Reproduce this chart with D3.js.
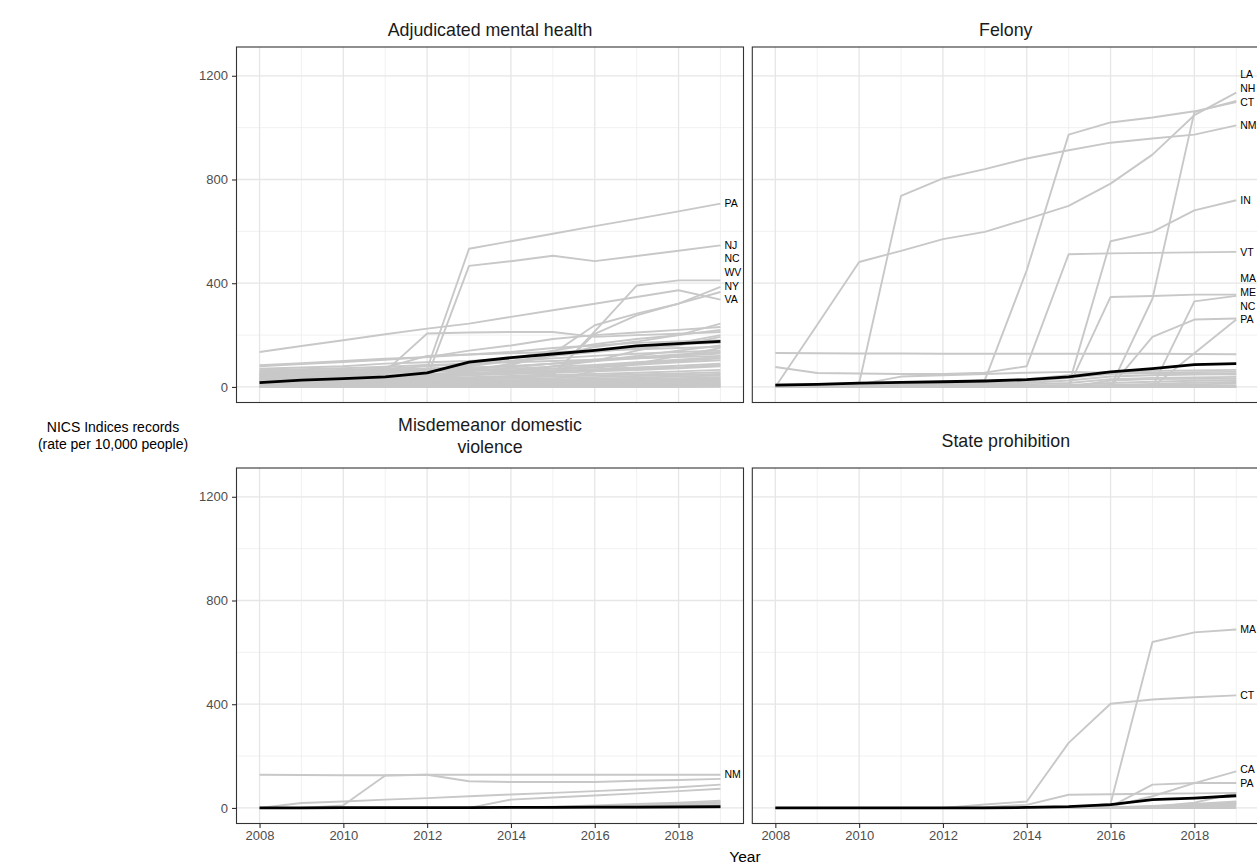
<!DOCTYPE html>
<html><head><meta charset="utf-8">
<script src="https://cdn.jsdelivr.net/npm/d3@7"></script>
<style>body{margin:0;background:#fff}svg{display:block}</style>
</head><body>
<svg id="chart" width="1257" height="865"></svg>
<script>
// ---------------- DATA ----------------
const years = [2008,2009,2010,2011,2012,2013,2014,2015,2016,2017,2018,2019];
const xTickYears = [2008,2010,2012,2014,2016,2018];
const yTickValues = [0,400,800,1200];
const panelTitles = [["Adjudicated mental health"],["Felony"],["Misdemeanor domestic","violence"],["State prohibition"]];
const yAxisTitle = ["NICS Indices records","(rate per 10,000 people)"];
const xAxisTitle = "Year";

// state series: [label (null = unlabelled), values 2008..2019]
const mentalHealthSeries = [
  ["PA",[60,62,64,67,70,533,562,591,620,648,677,707]],
  ["NJ",[30,31,33,35,38,467,485,506,485,505,525,546]],
  ["NC",[25,27,29,31,33,35,40,45,214,391,411,411]],
  ["WV",[45,50,55,60,65,70,84,129,238,283,321,386]],
  ["NY",[15,18,20,23,25,30,40,50,205,276,321,366]],
  ["VA",[135,158,180,203,225,244,270,296,321,347,373,337]],
  [null,[5,20,40,60,206,210,212,212,193,200,205,212]],
  [null,[20,25,30,35,40,60,90,120,154,175,200,244]],
  [null,[80,88,96,105,115,140,160,185,200,210,220,231]],
  [null,[84,92,100,109,115,125,135,150,160,170,175,180]],
  [null,[70,75,80,90,95,100,110,125,140,150,160,193]],
  [null,[60,63,66,70,80,90,100,110,120,128,135,140]],
  [null,[50,55,60,65,70,75,80,90,100,110,120,129]],
  [null,[45,48,52,55,60,65,70,78,85,95,105,116]],
  [null,[40,42,45,48,50,55,60,65,75,85,95,103]],
  [null,[35,37,40,42,45,50,55,60,68,75,82,90]],
  [null,[30,32,35,37,40,45,50,55,60,65,72,80]],
  [null,[25,27,30,32,35,38,42,46,50,55,60,66]],
  [null,[22,24,26,28,30,33,36,40,44,48,52,57]],
  [null,[18,20,22,24,26,28,31,34,38,42,46,50]],
  [null,[15,16,18,19,21,23,26,29,32,36,40,44]],
  [null,[12,13,15,16,18,20,22,25,28,31,34,38]],
  [null,[10,11,12,13,15,17,19,21,24,27,30,33]],
  [null,[8,9,10,11,12,14,16,18,20,23,26,29]],
  [null,[6,7,8,9,10,11,13,15,17,19,22,25]],
  [null,[5,6,6,7,8,9,10,12,14,16,18,21]],
  [null,[4,4,5,5,6,7,8,9,11,13,15,17]],
  [null,[3,3,4,4,5,5,6,7,8,10,12,14]],
  [null,[2,2,3,3,3,4,4,5,6,7,9,11]],
  [null,[1,1,2,2,2,3,3,4,4,5,6,8]],
  [null,[0,1,1,1,1,2,2,2,3,3,4,5]],
  [null,[0,0,0,1,1,1,1,1,2,2,2,3]],
  [null,[0,0,0,0,0,0,1,1,1,1,1,2]],
  [null,[0,0,0,0,0,0,0,0,0,0,1,1]],
  [null,[10,15,25,40,60,70,80,90,100,140,170,200]],
  [null,[0,0,0,0,0,5,10,30,60,90,120,150]],
  [null,[55,58,62,75,120,125,130,135,140,145,150,155]],
  [null,[65,68,72,78,85,90,95,100,105,110,115,120]],
  [null,[30,35,45,60,70,80,100,120,135,150,165,170]],
  [null,[20,22,24,26,30,50,55,60,65,70,75,85]],
  [null,[40,45,50,55,60,85,110,140,165,185,200,220]],
  [null,[25,28,32,36,40,45,60,80,100,120,140,160]],
  [null,[50,52,55,58,60,62,65,70,80,90,100,110]],
  [null,[35,38,41,44,47,60,75,90,105,115,125,135]]
];
const mentalHealthMean = [17,26,32,39,54,96,113,127,141,158,167,176];

const felonySeries = [
  ["LA",[0,240,482,525,570,598,647,698,784,896,1048,1135]],
  ["NH",[0,0,0,0,0,0,0,0,0,340,1060,1103]],
  ["CT",[5,8,10,14,18,26,450,973,1020,1039,1063,1099]],
  ["NM",[5,8,14,737,804,840,881,913,942,958,973,1009]],
  ["IN",[0,0,0,0,0,0,0,7,562,598,681,720]],
  ["VT",[77,54,52,50,50,55,80,512,515,517,519,521]],
  ["MA",[0,0,0,0,0,0,0,0,347,351,356,356]],
  ["ME",[0,0,0,0,0,0,0,0,0,0,330,351]],
  ["NC",[0,0,0,0,0,0,0,0,0,193,260,264]],
  ["PA",[0,0,0,0,0,0,0,0,0,0,130,260]],
  [null,[131,130,129,129,128,128,128,128,128,128,127,126]],
  [null,[0,2,10,40,45,50,55,58,55,52,50,48]],
  [null,[10,12,14,16,18,22,30,45,58,62,64,66]],
  [null,[5,6,8,10,12,15,20,35,50,55,57,58]],
  [null,[3,4,5,6,8,10,15,25,40,45,48,51]],
  [null,[2,3,4,5,6,8,10,15,30,35,37,39]],
  [null,[0,0,0,0,0,0,0,0,25,30,31,32]],
  [null,[1,1,2,2,3,4,5,8,15,20,24,26]],
  [null,[0,1,1,2,2,3,4,5,8,12,16,19]],
  [null,[0,0,1,1,1,2,2,3,5,8,10,13]],
  [null,[0,0,0,0,1,1,1,2,3,4,5,6]],
  [null,[0,0,0,0,0,0,0,1,1,2,2,3]],
  [null,[0,0,0,0,0,0,0,0,0,0,1,1]],
  [null,[0,0,0,0,0,0,0,0,0,0,0,0]]
];
const felonyMean = [7,10,15,18,20,23,28,39,58,71,86,90];

const domesticSeries = [
  ["NM",[128,127,126,126,128,128,128,128,128,128,128,128]],
  [null,[0,0,10,125,128,103,100,100,100,105,108,112]],
  [null,[0,19,25,32,38,45,52,58,65,72,80,90]],
  [null,[0,0,0,0,0,0,32,40,48,56,65,74]],
  [null,[0,0,0,0,0,0,2,5,10,15,20,28]],
  [null,[0,0,0,0,0,0,1,3,6,10,15,22]],
  [null,[0,0,0,0,0,0,0,2,4,8,12,18]],
  [null,[0,0,0,0,0,1,1,2,3,5,8,12]],
  [null,[0,0,0,0,0,0,0,1,2,3,5,8]],
  [null,[0,0,0,0,0,0,0,0,1,2,3,5]],
  [null,[0,0,0,0,0,0,0,0,0,0,0,0]]
];
const domesticMean = [0,0,1,1,1,1,2,2,3,3,4,5];

const prohibitionSeries = [
  ["MA",[0,0,0,0,0,0,0,0,16,640,677,688]],
  ["CT",[0,0,0,0,0,13,25,251,402,418,427,434]],
  ["CA",[0,0,0,0,0,0,0,0,5,45,96,141]],
  ["PA",[0,0,0,0,0,0,0,0,5,90,96,96]],
  [null,[0,0,0,0,0,3,12,51,53,55,56,58]],
  [null,[0,0,0,0,0,0,0,0,0,5,20,58]],
  [null,[0,0,0,0,0,0,0,0,2,8,15,25]],
  [null,[0,0,0,0,0,0,0,0,1,6,12,22]],
  [null,[0,0,0,0,0,0,0,0,0,4,10,18]],
  [null,[0,0,0,0,0,0,0,0,0,3,8,15]],
  [null,[0,0,0,0,0,0,0,0,0,2,5,10]],
  [null,[0,0,0,0,0,0,0,0,0,1,3,6]],
  [null,[0,0,0,0,0,0,0,0,0,0,0,0]]
];
const prohibitionMean = [0,0,0,0,0,0,2,5,13,32,38,47];

// ---------------- LAYOUT ----------------
const FONT = "'Liberation Sans', Arial, Helvetica, sans-serif";
const svg = d3.select("#chart");
const panels = [
  {series: mentalHealthSeries, mean: mentalHealthMean, title: panelTitles[0], x0:236.5, x1:743.5, y0:47,  y1:402.5, titleY:[30], yAxis:true,  xAxis:false},
  {series: felonySeries,       mean: felonyMean,       title: panelTitles[1], x0:752.3, x1:1259.3, y0:47, y1:402.5, titleY:[30], yAxis:false, xAxis:false},
  {series: domesticSeries,     mean: domesticMean,     title: panelTitles[2], x0:236.5, x1:743.5, y0:468, y1:823.5, titleY:[425,447], yAxis:true, xAxis:true},
  {series: prohibitionSeries,  mean: prohibitionMean,  title: panelTitles[3], x0:752.3, x1:1259.3, y0:468, y1:823.5, titleY:[441], yAxis:false, xAxis:true}
];

const minorX = d3.range(2009, 2020, 2);
const minorY = [200, 600, 1000];

panels.forEach((p, i) => {
  const x = d3.scaleLinear().domain([2007.45, 2019.55]).range([p.x0, p.x1]);
  const y = d3.scaleLinear().domain([-60, 1311]).range([p.y1, p.y0]);
  const g = svg.append("g");
  const clipId = "clip" + i;
  svg.append("clipPath").attr("id", clipId).append("rect")
    .attr("x", p.x0).attr("y", p.y0).attr("width", p.x1 - p.x0).attr("height", p.y1 - p.y0);

  // grid
  const grid = g.append("g").attr("clip-path", `url(#${clipId})`);
  grid.selectAll(".mnx").data(minorX).join("line")
    .attr("x1", d => x(d)).attr("x2", d => x(d)).attr("y1", p.y0).attr("y2", p.y1)
    .attr("stroke", "#ebebeb").attr("stroke-width", 0.7);
  grid.selectAll(".mny").data(minorY).join("line")
    .attr("y1", d => y(d)).attr("y2", d => y(d)).attr("x1", p.x0).attr("x2", p.x1)
    .attr("stroke", "#ebebeb").attr("stroke-width", 0.7);
  grid.selectAll(".mjx").data(xTickYears).join("line")
    .attr("x1", d => x(d)).attr("x2", d => x(d)).attr("y1", p.y0).attr("y2", p.y1)
    .attr("stroke", "#e6e6e6").attr("stroke-width", 1.3);
  grid.selectAll(".mjy").data(yTickValues).join("line")
    .attr("y1", d => y(d)).attr("y2", d => y(d)).attr("x1", p.x0).attr("x2", p.x1)
    .attr("stroke", "#e6e6e6").attr("stroke-width", 1.3);

  const line = d3.line().x((d, j) => x(years[j])).y(d => y(d));
  const lines = g.append("g").attr("clip-path", `url(#${clipId})`);
  lines.selectAll(".st").data(p.series.slice().reverse()).join("path")
    .attr("d", d => line(d[1]))
    .attr("fill", "none").attr("stroke", "#c8c8c8").attr("stroke-width", 1.9)
    .attr("stroke-linejoin", "round");
  lines.append("path").attr("d", line(p.mean))
    .attr("fill", "none").attr("stroke", "#000").attr("stroke-width", 2.8)
    .attr("stroke-linejoin", "round");

  // labels with upward-only repel
  const labs = p.series.filter(d => d[0]).map(d => ({name: d[0], y: y(d[1][d[1].length - 1])}));
  labs.sort((a, b) => b.y - a.y);
  for (let k = 1; k < labs.length; k++) {
    if (labs[k].y > labs[k-1].y - 13.6) labs[k].y = labs[k-1].y - 13.6;
  }
  g.selectAll(".lab").data(labs).join("text")
    .attr("x", x(2019) + 4).attr("y", d => d.y).attr("dy", "0.35em")
    .attr("font-family", FONT).attr("font-size", 10.5).attr("fill", "#000")
    .text(d => d.name);

  // border
  g.append("rect").attr("x", p.x0).attr("y", p.y0).attr("width", p.x1 - p.x0).attr("height", p.y1 - p.y0)
    .attr("fill", "none").attr("stroke", "#333").attr("stroke-width", 1.1);

  // title
  g.selectAll(".ttl").data(p.title).join("text")
    .attr("x", (p.x0 + p.x1) / 2).attr("y", (d, k) => p.titleY[k]).attr("dy", "0.35em")
    .attr("text-anchor", "middle").attr("font-family", FONT).attr("font-size", 17.8).attr("fill", "#1a1a1a")
    .text(d => d);

  if (p.yAxis) {
    const ax = g.append("g").attr("transform", `translate(${p.x0},0)`)
      .call(d3.axisLeft(y).tickValues(yTickValues).tickSize(4.5).tickPadding(4).tickFormat(d3.format("d")));
    ax.select(".domain").remove();
    ax.selectAll("line").attr("stroke", "#333").attr("stroke-width", 1.1);
    ax.selectAll("text").attr("font-family", FONT).attr("font-size", 13).attr("fill", "#4d4d4d");
  }
  if (p.xAxis) {
    const ax = g.append("g").attr("transform", `translate(0,${p.y1})`)
      .call(d3.axisBottom(x).tickValues(xTickYears).tickSize(4.5).tickPadding(3).tickFormat(d3.format("d")));
    ax.select(".domain").remove();
    ax.selectAll("line").attr("stroke", "#333").attr("stroke-width", 1.1);
    ax.selectAll("text").attr("font-family", FONT).attr("font-size", 13).attr("fill", "#4d4d4d");
  }
});

// axis titles
svg.selectAll(".yt").data(yAxisTitle).join("text")
  .attr("x", 113).attr("y", (d, k) => 427 + k * 17).attr("dy", "0.35em")
  .attr("text-anchor", "middle").attr("font-family", FONT).attr("font-size", 14).attr("fill", "#000")
  .text(d => d);
svg.append("text").attr("x", 745).attr("y", 857).attr("dy", "0.35em")
  .attr("text-anchor", "middle").attr("font-family", FONT).attr("font-size", 15.5).attr("fill", "#000")
  .text(xAxisTitle);
</script>
</body></html>
